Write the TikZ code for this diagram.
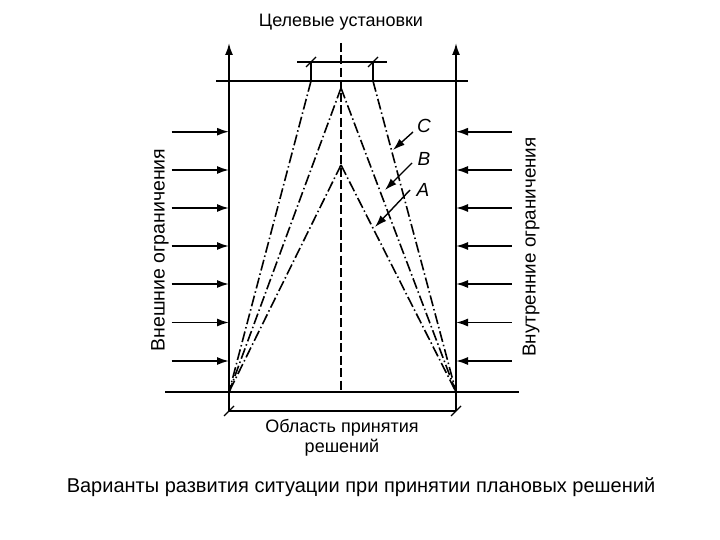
\documentclass[tikz,border=0pt]{standalone}
\usepackage{fontspec}
\setmainfont{Liberation Sans}
\usetikzlibrary{arrows.meta,calc}
\tikzset{
  >={Latex[length=12pt,width=8pt]},
  fanline/.style={line width=1.6pt,dash pattern=on 11pt off 3pt on 1.5pt off 3pt},
  inarrow/.style={->,line width=1.7pt},
  dimtick/.style={line width=1.3pt},
  lbl/.style={font=\fontsize{18}{21}\selectfont}
}
\begin{document}
\begin{tikzpicture}[x=1pt,y=-1pt]
\useasboundingbox (0,0) rectangle (720,540);
% corners, apexes
\coordinate (BL) at (229,392);
\coordinate (BR) at (456,392);
\coordinate (BLd) at (229,411);
\coordinate (BRd) at (456,411);
\coordinate (TL) at (229,43);
\coordinate (TR) at (456,43);
\coordinate (C1) at (311,81);
\coordinate (C2) at (373,81);
\coordinate (C1d) at (311,62);
\coordinate (C2d) at (373,62);
\coordinate (B0) at (341,88);
\coordinate (A0) at (341,165);
\coordinate (M1) at (341,43);
\coordinate (M2) at (341,390);
\node[lbl] (goal) at (341,22) {Целевые установки};
\draw[->,line width=1.8pt] (BLd) -- (TL);
\draw[->,line width=1.8pt] (BRd) -- (TR);
\draw[line width=1.4pt] (216,81) coordinate (H1) -- (468,81) coordinate (H2);
\draw[line width=1.4pt] (165,392) coordinate (G1) -- (519,392) coordinate (G2);
% dimension lines
\draw[dimtick] (297,62) coordinate (D1) -- (387,62) coordinate (D2);
\draw[dimtick] (C1d) -- (C1);
\draw[dimtick] (C2d) -- (C2);
\draw[dimtick] ($(C1d)+(-5,5)$) -- ($(C1d)+(5,-5)$);
\draw[dimtick] ($(C2d)+(-5,5)$) -- ($(C2d)+(5,-5)$);
\draw[dimtick] (BLd) -- (BRd);
\draw[dimtick] ($(BLd)+(-5,5)$) -- ($(BLd)+(5,-5)$);
\draw[dimtick] ($(BRd)+(-5,5)$) -- ($(BRd)+(5,-5)$);
\draw[line width=1.5pt,dash pattern=on 9pt off 3.5pt] (M1) -- (M2);
% variants
\draw[fanline] (C1) -- (BL);
\draw[fanline] (B0) -- (BL);
\draw[fanline] (A0) -- (BL);
\draw[fanline] (C2) -- (BR);
\draw[fanline] (B0) -- (BR);
\draw[fanline] (A0) -- (BR);
% pressure arrows
\foreach \i/\y in {1/131.7,2/170,3/208,4/246,5/284,6/322.5,7/361}{
  \coordinate (L\i) at (171.7,\y);
  \coordinate (Lt\i) at (229,\y);
  \coordinate (R\i) at (511.7,\y);
  \coordinate (Rt\i) at (456,\y);
  \draw[inarrow] (L\i) -- (Lt\i);
  \draw[inarrow] (R\i) -- (Rt\i);
}
\node[font=\fontsize{19.5}{22}\selectfont,rotate=90] (ext) at (160,250) {Внешние ограничения};
\node[font=\fontsize{18.8}{22}\selectfont,rotate=90] (int) at (531,247) {Внутренние ограничения};
% labels of variants
\node[font=\fontsize{19}{22}\selectfont\itshape] (labC) at (424,126) {C};
\node[font=\fontsize{19}{22}\selectfont\itshape] (labB) at (424,159) {B};
\node[font=\fontsize{19}{22}\selectfont\itshape] (labA) at (423,190) {A};
\coordinate (aC) at (413,132);
\coordinate (aB) at (412,163);
\coordinate (aA) at (410,190);
\draw[->,line width=1.4pt] (aC) -- (393,150);
\draw[->,line width=1.4pt] (aB) -- (385,190);
\draw[->,line width=1.4pt] (aA) -- (375,227);
\node[font=\fontsize{18}{20}\selectfont,align=center] (area) at (342,438) {Область принятия\\решений};
\node[font=\fontsize{20}{22}\selectfont] (cap) at (361,487) {Варианты развития ситуации при принятии плановых решений};
\end{tikzpicture}
\end{document}
